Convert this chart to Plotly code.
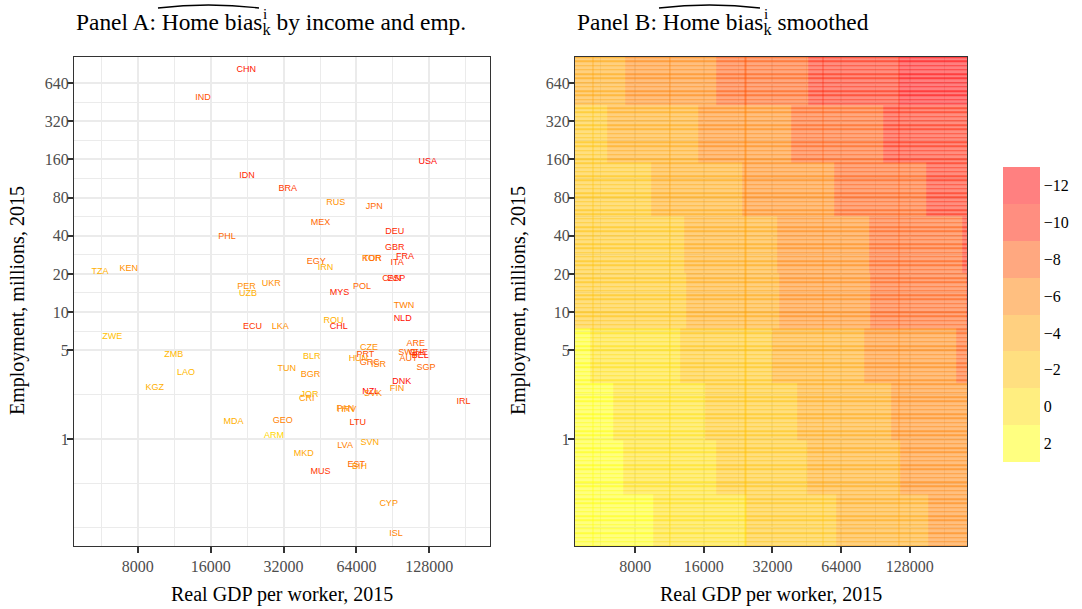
import numpy as np
import plotly.graph_objects as go
from plotly.colors import sample_colorscale

W, H = 1082, 609

# ---------------- data: Panel A ----------------
countries = ["CHN", "IND", "USA", "IDN", "BRA", "RUS", "JPN", "MEX", "DEU", "PHL",
             "GBR", "FRA", "TUR", "KOR", "ITA", "EGY", "IRN", "CAN", "ESP", "KEN",
             "TZA", "UKR", "PER", "UZB", "POL", "MYS", "TWN", "NLD", "ROU", "CHL",
             "ECU", "LKA", "ZWE", "ZMB", "CZE", "ARE", "SWE", "CHE", "BEL", "AUT",
             "PRT", "HUN", "GRC", "ISR", "BLR", "LAO", "TUN", "BGR", "SGP", "KGZ",
             "DNK", "FIN", "NZL", "SVK", "JOR", "CRI", "IRL", "PAN", "HRV", "MDA",
             "GEO", "LTU", "ARM", "SVN", "LVA", "MKD", "EST", "BIH", "MUS", "CYP",
             "ISL"]
gdp_per_worker = [22460, 14870, 126000, 22590, 33330, 52560, 75900, 45480, 92080, 18680,
                  92240, 101600, 74500, 74000, 94200, 43660, 47680, 89650, 93570, 7342,
                  5578, 28480, 22520, 22800, 67560, 54470, 100650, 99330, 51440, 54100,
                  23840, 31020, 6268, 11260, 72200, 112400, 105100, 115600, 117500, 104900,
                  69700, 65200, 72600, 78870, 41870, 12656, 33020, 41360, 124100, 9398,
                  98400, 94200, 73300, 75000, 40960, 39900, 177300, 57650, 58380, 19900,
                  31790, 64800, 29190, 72600, 57480, 38800, 63820, 65850, 45480, 86940,
                  93300]
employment = [810, 487, 152.6, 118.3, 93.4, 72.5, 67.8, 50.4, 42.8, 39.1,
              31.9, 27.4, 26.4, 26.2, 24.4, 24.8, 22.3, 18.25, 18.25, 21.9,
              20.8, 16.75, 15.78, 13.9, 15.78, 14.16, 11.19, 8.83, 8.56, 7.73,
              7.64, 7.68, 6.37, 4.59, 5.22, 5.61, 4.76, 4.76, 4.54, 4.25,
              4.59, 4.27, 3.97, 3.83, 4.45, 3.31, 3.58, 3.195, 3.65, 2.52,
              2.81, 2.48, 2.35, 2.26, 2.21, 2.07, 1.96, 1.72, 1.71, 1.354,
              1.386, 1.337, 1.056, 0.930, 0.881, 0.761, 0.624, 0.601, 0.549, 0.307,
              0.178]
home_bias = [-10.5, -8, -11.5, -9.5, -9, -5, -7, -7, -9.5, -7,
             -9.5, -10, -5, -7, -9, -7, -3, -9, -10, -5,
             -3, -5, -5, -3, -7, -10, -6, -11, -3, -10.5,
             -9, -5, -2, -2.5, -5, -7, -7, -9, -11, -7,
             -8, -4.5, -7, -6, -2.5, -2.5, -4, -5, -7, -3,
             -11, -5, -11.5, -5, -2.5, -4.5, -9, -6, -5, -3,
             -6, -9, -0.5, -3.5, -6, -3.5, -7, -4.5, -9, -5,
             -6]

# ---------------- data: Panel B (smoothed, binned surface) ----------------
# employment band edges (millions), bottom to top
band_edges = [0.143, 0.362, 0.983, 2.76, 7.37, 20.35, 57.3, 149.8, 429, 1026]
# level of leftmost block in each band, and GDP/worker where the level drops by 2
band_left_level = [2, 2, 2, 2, -2, -2, -2, -2, -4]
band_breaks = [
    [9600, 24350, 61150, 153600],
    [7090, 18150, 45600, 115700],
    [6400, 16250, 41210, 105600],
    [5070, 12610, 32000, 81180, 203900],
    [13400, 34350, 86260, 225600],
    [13130, 33660, 84560, 216600],
    [9410, 23620, 59930, 150500],
    [6030, 15130, 38790, 97400],
    [7230, 18150, 46060, 114500],
]
tile_column_edges = [5232, 11400, 24350, 53080, 114500]
n_tile_rows = 115

levels = [2, 0, -2, -4, -6, -8, -10, -12]
level_rgb = [(255, 255, 0), (255, 221, 0), (255, 191, 0), (255, 161, 0),
             (255, 127, 0), (255, 81, 0), (255, 29, 0), (255, 0, 0)]
level_labels = ["2", "0", "\u22122", "\u22124", "\u22126", "\u22128", "\u221210", "\u221212"]

x_ticks = [8000, 16000, 32000, 64000, 128000]
y_ticks = [1, 5, 10, 20, 40, 80, 160, 320, 640]

# ---------------- scales ----------------
XMIN, XMAX = 4360, 228000
YMIN, YMAX = 0.1431, 1026
xr = [np.log10(XMIN), np.log10(XMAX)]
yr = [np.log10(YMIN), np.log10(YMAX)]

# colour axis runs over -level so that the most negative bin sits on top of the colourbar
zmin, zmax = -3, 13
nb = len(levels)
cs_binned = []
for i, (r, g, b) in enumerate(level_rgb):
    c = f"rgba({r},{g},{b},0.5)"
    cs_binned.append([i / nb, c])
    cs_binned.append([(i + 1) / nb, c])
cs_cont = [[0, "rgb(255,255,0)"]]
for L, (r, g, b) in zip(levels, level_rgb):
    cs_cont.append([(-L - zmin) / (zmax - zmin), f"rgb({r},{g},{b})"])
cs_cont.append([1, "rgb(255,0,0)"])

text_colors = sample_colorscale(cs_cont, [(-v - zmin) / (zmax - zmin) for v in home_bias])


def level_at(band, xv):
    return band_left_level[band] - 2 * sum(1 for b in band_breaks[band] if b < xv)


def band_of(yv):
    for i in range(len(band_edges) - 1):
        if yv < band_edges[i + 1]:
            return i
    return len(band_edges) - 2


XLO, XHI = 3500, 300000
YLO, YHI = 0.1, 1500
allb = sorted(set(b for row in band_breaks for b in row))
x_edges = [XLO] + allb + [XHI]
x_cent = [np.sqrt(x_edges[i] * x_edges[i + 1]) for i in range(len(x_edges) - 1)]
y_edges = [YLO] + band_edges[1:-1] + [YHI]
zA = [[-level_at(r, xc) for xc in x_cent] for r in range(len(band_edges) - 1)]

# thin horizontal tile overlaps
hy = 2 ** (0.75 / 38.19)
line_ys = np.geomspace(YMIN, YMAX, n_tile_rows + 1)
yB, zB = [], []
for j, ly in enumerate(line_ys):
    yB += [ly / hy, ly * hy]
    bnd = band_of(ly)
    zB.append([-level_at(bnd, xc) for xc in x_cent])
    if j < len(line_ys) - 1:
        zB.append([None] * len(x_cent))

# thin vertical tile overlaps
hx = 2 ** (0.6 / 68.5)
xC = []
for lx in tile_column_edges:
    xC += [lx / hx, lx * hx]
zC = []
for r in range(len(band_edges) - 1):
    row = []
    for k, lx in enumerate(tile_column_edges):
        row.append(-level_at(r, lx))
        if k < len(tile_column_edges) - 1:
            row.append(None)
    zC.append(row)

fig = go.Figure()

fig.add_trace(go.Scatter(
    x=gdp_per_worker, y=employment, text=countries, mode="text",
    textfont=dict(family="Liberation Sans, Arial, sans-serif", size=9, color=text_colors),
    xaxis="x", yaxis="y", showlegend=False, hoverinfo="text"))

common = dict(colorscale=cs_binned, zmin=zmin, zmax=zmax, xaxis="x2", yaxis="y2",
              hoverinfo="skip")
fig.add_trace(go.Heatmap(
    x=x_edges, y=y_edges, z=zA, showscale=True,
    colorbar=dict(x=1003 / W, xanchor="left", xpad=0, thickness=37, thicknessmode="pixels",
                  len=295 / H, lenmode="fraction", y=1 - 314.5 / H, yanchor="middle", ypad=0,
                  tickvals=[-L for L in levels], ticktext=level_labels, ticks="",
                  outlinewidth=0,
                  tickfont=dict(family="Liberation Serif, serif", size=16, color="#000000")),
    **common))
fig.add_trace(go.Heatmap(x=x_edges, y=yB, z=zB, showscale=False, **common))
fig.add_trace(go.Heatmap(x=xC, y=y_edges, z=zC, showscale=False, **common))

tickfont = dict(family="Liberation Serif, serif", size=16, color="#4D4D4D")
x_minor = [np.sqrt(a * b) for a, b in zip([4000] + x_ticks, x_ticks + [256000])]
y_minor = [0.2, np.sqrt(0.2 * 1)] + [np.sqrt(a * b) for a, b in zip(y_ticks[:-1], y_ticks[1:])]


def xaxis(dom, anchor):
    return dict(type="log", domain=dom, anchor=anchor, range=xr, tickvals=x_ticks,
                ticktext=[str(v) for v in x_ticks], tickfont=tickfont,
                ticks="outside", ticklen=6, tickwidth=1.5, tickcolor="#333333",
                showline=True, mirror=True, linecolor="#333333", linewidth=1.3,
                showgrid=True, gridcolor="#EBEBEB", gridwidth=1.6, zeroline=False,
                minor=dict(tickvals=x_minor, showgrid=True, gridcolor="#EBEBEB",
                           gridwidth=0.8, ticks=""))


def yaxis(dom, anchor):
    return dict(type="log", domain=dom, anchor=anchor, range=yr, tickvals=y_ticks,
                ticktext=[str(v) for v in y_ticks], tickfont=tickfont,
                ticks="outside", ticklen=6, tickwidth=1.5, tickcolor="#333333",
                ticklabelstandoff=-5,
                showline=True, mirror=True, linecolor="#333333", linewidth=1.3,
                showgrid=True, gridcolor="#EBEBEB", gridwidth=1.6, zeroline=False,
                minor=dict(tickvals=y_minor, showgrid=True, gridcolor="#EBEBEB",
                           gridwidth=0.8, ticks=""))


ydom = [1 - 546 / H, 1 - 57 / H]
fig.update_layout(
    width=W, height=H, margin=dict(l=0, r=0, t=0, b=0),
    paper_bgcolor="white", plot_bgcolor="white", showlegend=False,
    xaxis=xaxis([74 / W, 490 / W], "y"), yaxis=yaxis(ydom, "x"),
    xaxis2=xaxis([575 / W, 967 / W], "y2"), yaxis2=yaxis(ydom, "x2"),
)

serif = "Liberation Serif, serif"
ann = []
for xc in (282, 771):
    ann.append(dict(text="Real GDP per worker, 2015", x=xc / W, y=1 - 594 / H, xref="paper",
                    yref="paper", showarrow=False, xanchor="center", yanchor="middle",
                    font=dict(family=serif, size=20, color="#000000")))
for xc in (18, 519):
    ann.append(dict(text="Employment, millions, 2015", x=xc / W, y=1 - 301 / H, xref="paper",
                    yref="paper", showarrow=False, xanchor="center", yanchor="middle",
                    textangle=-90, font=dict(family=serif, size=20, color="#000000")))
titles = [(74, "Panel A: Home bias<sub>k</sub> by income and emp.", 265),
          (575, "Panel B: Home bias<sub>k</sub> smoothed", 766)]
for x0, t, xi in titles:
    ann.append(dict(text=t, x=x0 / W, y=1 - 24 / H, xref="paper", yref="paper",
                    showarrow=False, xanchor="left", yanchor="middle",
                    font=dict(family=serif, size=23.4, color="#000000")))
    ann.append(dict(text="i", x=xi / W, y=1 - 14 / H, xref="paper", yref="paper",
                    showarrow=False, xanchor="center", yanchor="middle",
                    font=dict(family=serif, size=15, color="#000000")))
fig.update_layout(annotations=ann)

shapes = []
for a, b in ((158, 259), (659, 760)):
    m = (a + b) / 2
    p = (f"M {a / W},{1 - 8 / H} Q {(a + m) / 2 / W},{1 - 5 / H} {m / W},{1 - 5 / H} "
         f"Q {(m + b) / 2 / W},{1 - 5 / H} {b / W},{1 - 8 / H}")
    shapes.append(dict(type="path", path=p, xref="paper", yref="paper",
                       line=dict(color="#000000", width=1.4)))
fig.update_layout(shapes=shapes)

fig.write_html("out.html", config={"displayModeBar": False},
               post_script="document.body.style.margin='0px';")
